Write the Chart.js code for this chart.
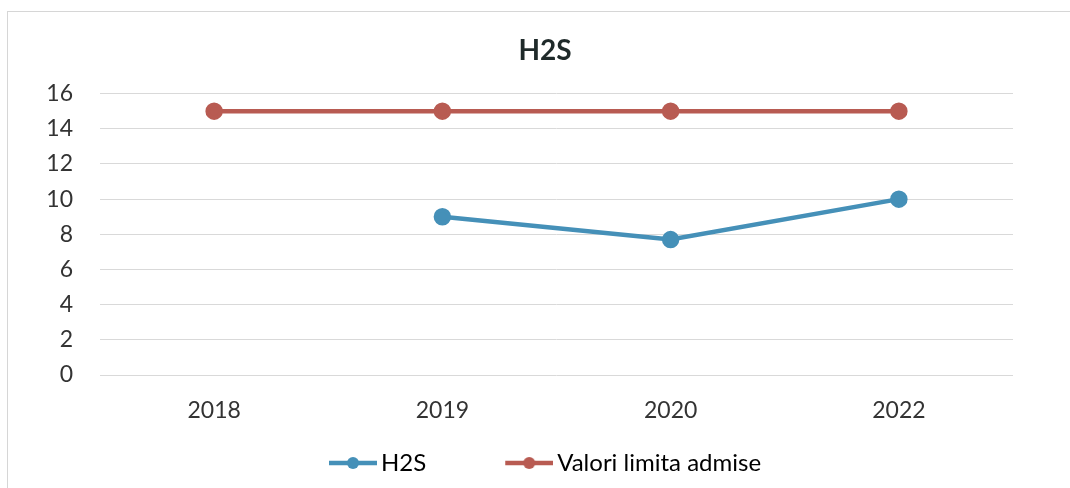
<!DOCTYPE html>
<html><head><meta charset="utf-8">
<script src="https://cdn.jsdelivr.net/npm/chart.js@4.4.1/dist/chart.umd.min.js"></script>
<style>html,body{margin:0;padding:0;background:#fff;}#wrap{width:1070px;height:488px;position:relative;}</style>
</head><body><div id="wrap"><canvas id="c" width="1070" height="488"></canvas></div>
<script>
const categories = ["2018", "2019", "2020", "2022"];
const h2sValues = [null, 9, 7.7, 10];
const limitValues = [15, 15, 15, 15];
const yTicks = [0, 2, 4, 6, 8, 10, 12, 14, 16];
const seriesNames = ["H2S", "Valori limita admise"];

const BLUE = '#4590b8';
const RED = '#b85b52';
const FONT = 'Lato, "Open Sans", sans-serif';
function legendIcon(color){
  const c = document.createElement('canvas');
  c.width = 56; c.height = 14;
  const g = c.getContext('2d');
  g.strokeStyle = color; g.lineWidth = 4.5; g.lineCap='butt';
  g.beginPath(); g.moveTo(8,7); g.lineTo(56,7); g.stroke();
  g.fillStyle = color; g.beginPath(); g.arc(32,7,6,0,Math.PI*2); g.fill();
  return c;
}
const frame = {
  id:'frame',
  beforeDraw(chart){
    const ctx = chart.ctx; ctx.save();
    ctx.strokeStyle = '#d6d6d6'; ctx.lineWidth = 1;
    ctx.strokeRect(7.5, 11.5, 1080, 500);
    ctx.restore();
  }
};
new Chart(document.getElementById('c'), {
  type: 'line',
  data: {
    labels: categories,
    datasets: [
      {label:seriesNames[0], data:h2sValues, borderColor:BLUE, backgroundColor:BLUE, borderWidth:4.5,
       pointRadius:6.5, pointHoverRadius:6.5, pointStyle:'circle', tension:0, spanGaps:false},
      {label:seriesNames[1], data:limitValues, borderColor:RED, backgroundColor:RED, borderWidth:4.5,
       pointRadius:6.5, pointHoverRadius:6.5, pointStyle:'circle', tension:0}
    ]
  },
  plugins:[frame],
  options: {
    responsive:false, animation:false,
    devicePixelRatio:1,
    layout:{padding:{top:10, left:20, right:0, bottom:3}},
    plugins:{
      title:{display:true, text:'H2S', color:'#1f2a2a', font:{family:FONT, size:28, weight:'bold'}, padding:{top:24, bottom:26}},
      legend:{position:'bottom', labels:{
        usePointStyle:true, pointStyleWidth:40, color:'#222', padding:13,
        font:{family:FONT, size:24},
        generateLabels(chart){
          return chart.data.datasets.map((d,i)=>({text: i===0 ? d.label + '\u2003\u2003\u2003\u2002' : d.label, pointStyle:legendIcon(d.borderColor), fillStyle:d.borderColor, strokeStyle:d.borderColor, lineWidth:0, datasetIndex:i, hidden:false}));
        }
      }},
      tooltip:{enabled:false}
    },
    scales:{
      x:{
        offset:true,
        grid:{display:false, drawTicks:false}, border:{display:false},
        ticks:{color:'#333', padding:22, font:{family:FONT, size:23}},
        afterFit(s){ s.height = 63; }
      },
      y:{
        min:0, max:16,
        afterBuildTicks(s){ s.ticks = yTicks.map(v=>({value:v})); },
        grid:{color:'#d9d9d9', lineWidth:1, drawTicks:false}, border:{display:false},
        ticks:{color:'#333', padding:27, font:{family:FONT, size:23}},
        afterFit(s){ s.width = 80; }
      },
      yRight:{
        position:'right', display:true,
        grid:{display:false, drawTicks:false}, border:{display:false},
        ticks:{display:false},
        afterFit(s){ s.width = 57; }
      }
    }
  }
});
</script></body></html>
